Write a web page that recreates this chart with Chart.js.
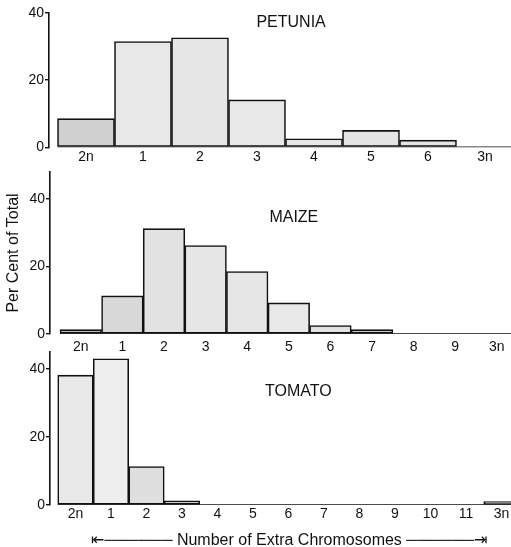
<!DOCTYPE html>
<html>
<head>
<meta charset="utf-8">
<script src="https://cdn.jsdelivr.net/npm/chart.js@4/dist/chart.umd.min.js"></script>
<style>
html,body{margin:0;padding:0;background:#fff;overflow:hidden;width:511px;height:547px;position:relative}
canvas{position:absolute;left:0}
</style>
</head>
<body>
<canvas id="c1" width="511" height="168" style="top:0px"></canvas>
<canvas id="c2" width="511" height="192" style="top:168px"></canvas>
<canvas id="c3" width="511" height="200" style="top:348px"></canvas>
<script>
// ---- data ----
const petuniaCategories = ['2n','1','2','3','4','5','6','3n'];
const petuniaValues     = [8.5, 31.5, 32.6, 14.1, 2.5, 5.0, 2.1, 0];
const maizeCategories   = ['2n','1','2','3','4','5','6','7','8','9','3n'];
const maizeValues       = [1.3, 11.3, 31.2, 26.2, 18.5, 9.2, 2.5, 1.3, 0, 0, 0];
const tomatoCategories  = ['2n','1','2','3','4','5','6','7','8','9','10','11','3n'];
const tomatoValues      = [38.2, 43.0, 11.3, 1.2, 0, 0, 0, 0, 0, 0, 0, 0, 1.0];
const yTickValues = [0, 20, 40];
const panelTitles = ['PETUNIA', 'MAIZE', 'TOMATO'];
const yAxisTitle = 'Per Cent of Total';
const xAxisTitle = 'Number of Extra Chromosomes';

// ---- styles ----
const petuniaFills = ['#d0d0d0','#e8e8e8','#e6e6e6','#e8e8e8','#e6e6e6','#e4e4e4','#e4e4e4','#e6e6e6'];
const maizeFills   = ['#bdbdbd','#d8d8d8','#e2e2e2','#e6e6e6','#e6e6e6','#e8e8e8','#e2e2e2','#c8c8c8','#e6e6e6','#e6e6e6','#e6e6e6'];
const tomatoFills  = ['#e8e8e8','#eeeeee','#dedede','#e6e6e6','#e6e6e6','#e6e6e6','#e6e6e6','#e6e6e6','#e6e6e6','#e6e6e6','#e6e6e6','#e6e6e6','#8a8a8a'];

Chart.defaults.font.family = "'Liberation Sans', Arial, 'DejaVu Sans', sans-serif";
Chart.defaults.color = '#111';
const INK = '#111';

function buildPanel(id, title, categories, values, fills, g) {
  const xTitleText = ' '.repeat(g.xLead || 0) + '\u21E4' + '\u2500'.repeat(g.dashes || 6) + ' ' + xAxisTitle + ' ' + '\u2500'.repeat(g.dashes || 6) + '\u21E5';
  return new Chart(document.getElementById(id), {
    type: 'bar',
    data: {
      datasets: [
        {
          type: 'line',
          data: [{x: -0.5, y: 0}, {x: categories.length - 0.5, y: 0}],
          borderColor: INK, borderWidth: 1.6, pointRadius: 0, order: 1
        },
        {
          type: 'bar',
          data: values.map((v, i) => ({x: i, y: v})),
          backgroundColor: fills,
          borderColor: INK, borderWidth: 1.6, borderSkipped: false,
          barPercentage: 1, categoryPercentage: 1, order: 2
        }
      ]
    },
    options: {
      responsive: false, maintainAspectRatio: false, animation: false, events: [],
      layout: {padding: 0},
      plugins: {
        legend: {display: false},
        tooltip: {enabled: false},
        title: {
          display: true, fullSize: false,
          text: ' '.repeat(g.lead) + title,
          font: {size: 16, weight: 'normal'}, color: INK,
          padding: {top: g.tpTop, bottom: g.tpBottom}
        }
      },
      scales: {
        x: {
          type: 'linear', min: g.xMin, max: g.xMax, offset: false,
          border: {display: false},
          grid: {display: false, drawTicks: false, offset: false},
          ticks: {
            padding: g.tickPad, autoSkip: false, maxRotation: 0, minRotation: 0,
            font: {size: 14}, color: INK,
            callback: (v) => (categories[v] !== undefined ? categories[v] : '')
          },
          afterBuildTicks: (s) => { s.ticks = categories.map((_, i) => ({value: i})); },
          afterFit: (s) => { s.paddingLeft = 0; s.paddingRight = 0; },
          title: {
            display: !!g.xTitle, text: xTitleText,
            font: {size: 16}, color: INK,
            padding: {top: 7, bottom: -2}
          }
        },
        y: {
          min: 0, max: g.yMax,
          border: {display: true, color: INK, width: 1.6},
          grid: {display: true, drawOnChartArea: false, drawTicks: true, tickLength: 4, color: INK, lineWidth: 1.4},
          ticks: {padding: 1, font: {size: 14}, color: INK},
          afterBuildTicks: (s) => { s.ticks = yTickValues.map(v => ({value: v})); },
          afterFit: (s) => { s.width = g.axisW; s.paddingTop = 0; s.paddingBottom = 0; },
          title: {
            display: !!g.yTitle, text: yAxisTitle,
            font: {size: 16}, color: INK,
            padding: {top: 4.4, bottom: 0}
          }
        }
      }
    }
  });
}

buildPanel('c1', panelTitles[0], petuniaCategories, petuniaValues, petuniaFills,
  {xMin: -0.649, xMax: 7.456, yMax: 40, axisW: 49, lead: 5, tpTop: 13.4, tpBottom: -19.6, tickPad: 2});
buildPanel('c2', panelTitles[1], maizeCategories, maizeValues, maizeFills,
  {xMin: -0.74, xMax: 10.34, yMax: 48, axisW: 50, lead: 6, tpTop: 40.4, tpBottom: -55.6, tickPad: 4.6, yTitle: true});
buildPanel('c3', panelTitles[2], tomatoCategories, tomatoValues, tomatoFills,
  {xMin: -0.718, xMax: 12.268, yMax: 45, axisW: 50, lead: 8, tpTop: 34.4, tpBottom: -49.6, tickPad: 1, xTitle: true, dashes: 6, xLead: 4});
</script>
</body>
</html>
